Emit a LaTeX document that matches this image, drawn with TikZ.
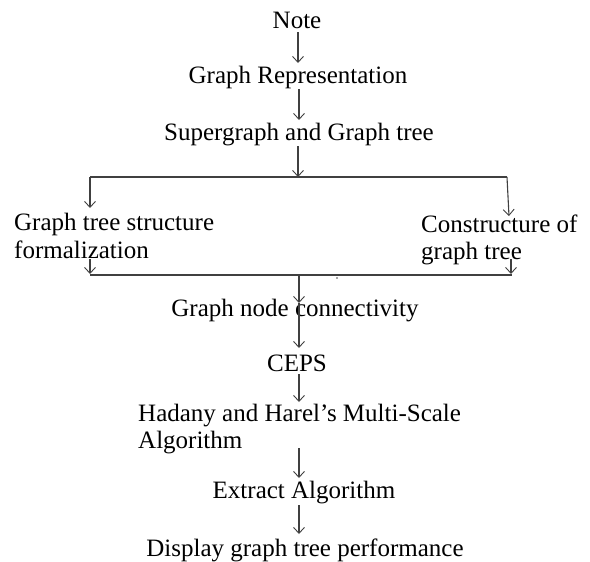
\documentclass[tikz,border=0pt]{standalone}
\usepackage{fontspec}
\setmainfont{Liberation Serif}
\usetikzlibrary{arrows.meta}
\begin{document}
\begin{tikzpicture}[x=1pt,y=-1pt,
  txt/.style={inner sep=0pt,font=\fontsize{25}{27.5}\selectfont},
  conn/.style={draw=black!75,line width=1.1pt},
  arr/.style={conn,-{Straight Barb[length=6pt,width=11pt,line width=0.9pt]}}]
\useasboundingbox (0,0) rectangle (590,562);
\node[txt] (note) at (297,20) {Note};
\node[txt] (rep) at (298,77) {Graph Representation};
\node[txt] (super) at (299,135) {Supergraph and Graph tree};
\node[txt,anchor=west,align=left] (left) at (14,236) {Graph tree structure\\formalization};
\node[txt,anchor=west,align=left] (right) at (421,240) {Constructure of\\graph tree};
\node[txt] (gconn) at (295,311) {Graph node connectivity};
\node[txt] (ceps) at (297,363) {CEPS};
\node[txt,anchor=west,align=left] (had) at (138,429) {Hadany and Harel’s Multi-Scale\\Algorithm};
\node[txt] (extract) at (304,493) {Extract Algorithm};
\node[txt] (display) at (305,550) {Display graph tree performance};
% junction coordinates
\coordinate (s1) at (298,146);
\coordinate (j1) at (298,177);
\coordinate (jl) at (90,177);
\coordinate (jr) at (507,177);
\coordinate (tl) at (90,208);
\coordinate (tr) at (509,216);
\coordinate (bl1) at (90,259);
\coordinate (bl2) at (90,274);
\coordinate (br1) at (511,259);
\coordinate (br2) at (511,274);
\coordinate (j2) at (299,275);
\coordinate (t2) at (299,303);
\coordinate (t3) at (299,348);
\coordinate (c1) at (299,374);
\coordinate (t4) at (299,402);
\coordinate (h1) at (299,448);
\coordinate (t5) at (299,478);
\coordinate (e1) at (299,505);
\coordinate (t6) at (299,534);
\coordinate (n1) at (298,32);
\coordinate (n2) at (298,63);
\coordinate (r1) at (299,89);
\coordinate (r2) at (299,120);
% connectors
\draw[arr] (n1) -- (n2);
\draw[arr] (r1) -- (r2);
\draw[arr] (s1) -- (j1);
\draw[conn] (jl) -- (jr);
\draw[arr] (jl) -- (tl);
\draw[arr] (jr) -- (tr);
\draw[arr] (bl1) -- (bl2);
\draw[arr] (br1) -- (br2);
\draw[conn] (90,275) -- (512,275);
\draw[arr] (j2) -- (t2);
\draw[arr] (t2) -- (t3);
\draw[arr] (c1) -- (t4);
\draw[arr] (h1) -- (t5);
\draw[arr] (e1) -- (t6);
\fill[black!70] (337,278) circle (0.8pt);
\end{tikzpicture}
\end{document}
